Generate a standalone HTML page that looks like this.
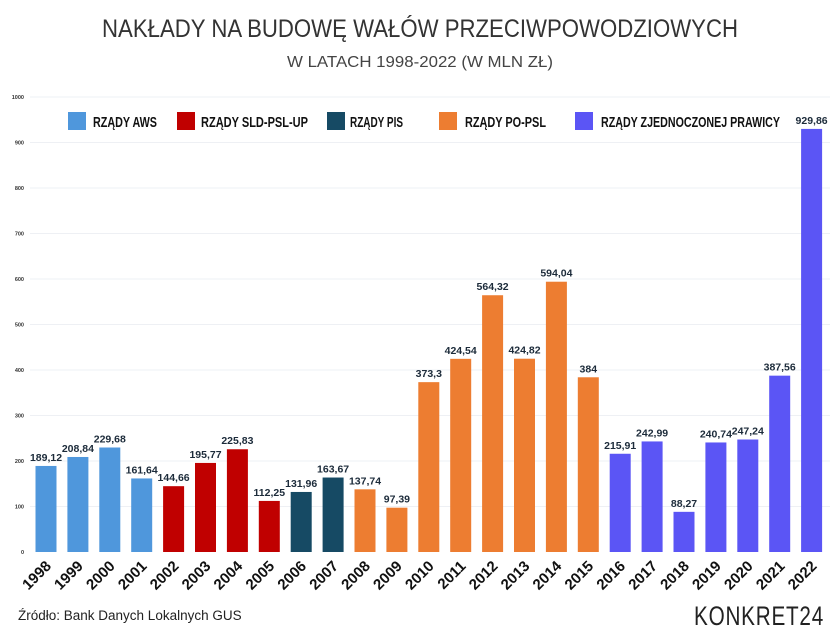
<!DOCTYPE html>
<html><head><meta charset="utf-8"><style>
html,body{margin:0;padding:0;background:#fff;}
svg{display:block;font-family:"Liberation Sans",sans-serif;}
</style></head><body>
<svg id="c" width="840" height="634" viewBox="0 0 840 634" xmlns="http://www.w3.org/2000/svg">
<text x="420" y="37" text-anchor="middle" font-size="25" fill="#333" textLength="636" lengthAdjust="spacingAndGlyphs">NAKŁADY NA BUDOWĘ WAŁÓW PRZECIWPOWODZIOWYCH</text>
<text x="420" y="67" text-anchor="middle" font-size="16" fill="#444" textLength="266" lengthAdjust="spacingAndGlyphs">W LATACH 1998-2022 (W MLN ZŁ)</text>
<g id="grid"></g>
<g id="legend" font-family="'Liberation Sans Narrow','Liberation Sans',sans-serif" font-weight="bold" font-size="15" fill="#111">
<rect x="68" y="112" width="18" height="18" fill="#4f97dc"/><text x="93" y="127" textLength="64" lengthAdjust="spacingAndGlyphs">RZĄDY AWS</text>
<rect x="177" y="112" width="18" height="18" fill="#c00000"/><text x="201" y="127" textLength="107" lengthAdjust="spacingAndGlyphs">RZĄDY SLD-PSL-UP</text>
<rect x="327" y="112" width="18" height="18" fill="#164a64"/><text x="350" y="127" textLength="53" lengthAdjust="spacingAndGlyphs">RZĄDY PIS</text>
<rect x="439" y="112" width="18" height="18" fill="#ed7d31"/><text x="465" y="127" textLength="81" lengthAdjust="spacingAndGlyphs">RZĄDY PO-PSL</text>
<rect x="575" y="112" width="18" height="18" fill="#5b55f5"/><text x="601" y="127" textLength="179" lengthAdjust="spacingAndGlyphs">RZĄDY ZJEDNOCZONEJ PRAWICY</text>
</g>
<g id="bars"></g>
<text x="18" y="620" font-size="13.5" fill="#222">Źródło: Bank Danych Lokalnych GUS</text>
<text x="694" y="625" font-size="27" fill="#222" textLength="130" lengthAdjust="spacingAndGlyphs" letter-spacing="1">KONKRET24</text>
</svg>
<script>
var ns="http://www.w3.org/2000/svg";
function el(t,a,txt,p){var e=document.createElementNS(ns,t);for(var k in a)e.setAttribute(k,a[k]);if(txt!=null)e.textContent=txt;p.appendChild(e);return e;}
var g=document.getElementById('grid'),b=document.getElementById('bars');
var y0=552,sc=0.455;
for(var v=0;v<=1000;v+=100){var y=y0-v*sc;
 if(v>0)el('line',{x1:30,x2:830,y1:y,y2:y,stroke:'#eef0f4','stroke-width':1},null,g);
 el('text',{x:24,y:y+2,'text-anchor':'end','font-size':5.5,fill:'#333','font-weight':'bold'},String(v),g);}
var vals=[189.12,208.84,229.68,161.64,144.66,195.77,225.83,112.25,131.96,163.67,137.74,97.39,373.3,424.54,564.32,424.82,594.04,384,215.91,242.99,88.27,240.74,247.24,387.56,929.86];
var lab=["189,12","208,84","229,68","161,64","144,66","195,77","225,83","112,25","131,96","163,67","137,74","97,39","373,3","424,54","564,32","424,82","594,04","384","215,91","242,99","88,27","240,74","247,24","387,56","929,86"];
function col(i){return i<4?'#4f97dc':i<8?'#c00000':i<10?'#164a64':i<18?'#ed7d31':'#5b55f5';}
for(var i=0;i<25;i++){var cx=46+i*31.9,h=vals[i]*sc;
 el('rect',{x:cx-10.5,y:y0-h,width:21,height:h,fill:col(i)},null,b);
 el('text',{x:cx,y:y0-h-5,'text-anchor':'middle','font-size':10.5,'font-weight':'bold',fill:'#1c2b3a'},lab[i],b);
 el('text',{x:0,y:0,'text-anchor':'end','font-size':15,'font-weight':'bold',fill:'#111',transform:'translate('+(cx+6)+',567) rotate(-45)'},String(1998+i),b);}
</script>
</body></html>
